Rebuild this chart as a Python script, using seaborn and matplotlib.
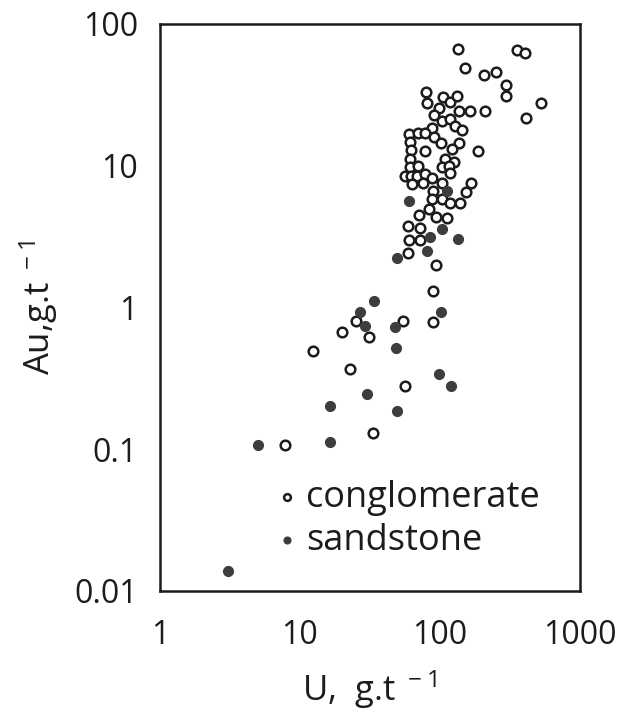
import matplotlib
matplotlib.use("Agg")
import matplotlib.pyplot as plt
from matplotlib.ticker import NullLocator
import seaborn as sns
import pandas as pd

# U and Au values (g/t)
cong_u = [134, 356, 408, 152, 208, 252, 297, 298, 526, 414,
          80.3, 80.5, 106, 119, 132, 99, 137, 165, 210, 91.2,
          104, 118, 128, 144, 87.9, 60.5, 69.5, 78.8, 90.4, 61.6,
          102, 138, 122, 77.8, 61.8, 188, 61.2, 109, 127, 61.4,
          103, 116, 70, 118, 56.2, 62.7, 69.2, 79, 88.3, 62.9,
          76.3, 168, 155, 88.7, 87.8, 104, 119, 139, 103, 83.3,
          71.5, 94, 113, 59.3, 72, 60.3, 71.9, 59.3, 94, 89.4,
          54.8, 89.1, 25.1, 31.4, 20.1, 12.5, 22.9, 56.2, 33.5, 7.85]
cong_au = [66.4, 65.6, 62.2, 48.8, 43.2, 45.9, 36.7, 31.1, 27.5, 21.7,
           33.2, 27.7, 30.3, 27.9, 31.1, 25.5, 24.4, 24.4, 24.4, 22.8,
           20.7, 21.3, 19.1, 17.7, 18.3, 16.8, 17.0, 17.0, 15.9, 14.7,
           14.5, 14.5, 13.0, 12.6, 12.8, 12.6, 11.1, 11.1, 10.5, 9.8,
           9.7, 9.9, 9.9, 8.9, 8.5, 8.4, 8.5, 8.65, 8.2, 7.35,
           7.55, 7.55, 6.53, 6.6, 5.77, 5.77, 5.46, 5.46, 7.55, 4.9,
           4.47, 4.32, 4.24, 3.74, 3.6, 2.98, 2.98, 2.43, 1.99, 1.30,
           0.80, 0.79, 0.80, 0.62, 0.675, 0.49, 0.37, 0.277, 0.129, 0.107]

sand_u = [3.04, 5.0, 16.5, 16.4, 30.4, 33.8, 26.7, 29.1, 48.2, 48.3,
          102, 98.7, 120, 49.5, 49.8, 80.8, 85.1, 103, 135, 59.8, 112]
sand_au = [0.0138, 0.107, 0.113, 0.20, 0.244, 1.11, 0.93, 0.74, 0.73, 0.52,
           0.92, 0.34, 0.277, 0.186, 2.21, 2.49, 3.15, 3.58, 3.05, 5.61, 6.6]

x_ticks = [1, 10, 100, 1000]
x_tick_labels = ["1", "10", "100", "1000"]
y_ticks = [0.01, 0.1, 1, 10, 100]
y_tick_labels = ["0.01", "0.1", "1", "10", "100"]

sns.set_style("white")
plt.rcParams['font.family'] = ['Open Sans', 'DejaVu Sans']
plt.rcParams['mathtext.default'] = 'regular'

ink = "#1c1c1c"
df_c = pd.DataFrame({"U": cong_u, "Au": cong_au})
df_s = pd.DataFrame({"U": sand_u, "Au": sand_au})

fig = plt.figure(figsize=(6.2, 7.18), dpi=100)
ax = fig.add_axes([0.258, 0.177, 0.677, 0.790])

sns.scatterplot(data=df_c, x="U", y="Au", ax=ax, marker="o", s=48,
                facecolor="white", edgecolor=ink, linewidth=1.8,
                label="conglomerate", zorder=3)
sns.scatterplot(data=df_s, x="U", y="Au", ax=ax, marker="o", s=52,
                color="#3d3d3d", edgecolor="#3d3d3d", linewidth=0.8,
                label="sandstone", zorder=3)

ax.set_xscale("log")
ax.set_yscale("log")
ax.set_xlim(1, 1000)
ax.set_ylim(0.01, 100)
ax.set_xticks(x_ticks)
ax.set_xticklabels(x_tick_labels)
ax.set_yticks(y_ticks)
ax.set_yticklabels(y_tick_labels)
ax.xaxis.set_minor_locator(NullLocator())
ax.yaxis.set_minor_locator(NullLocator())

ax.tick_params(axis="both", direction="in", length=9, width=1.6,
               colors=ink, labelsize=23)
ax.tick_params(axis="x", pad=20)
ax.tick_params(axis="y", pad=16)
for sp in ax.spines.values():
    sp.set_linewidth(1.8)
    sp.set_color(ink)

ax.set_xlabel("U,  g.t$^{\\ -1}$", fontsize=25, color=ink, labelpad=12)
ax.set_ylabel("Au,g.t$^{\\ -1}$", fontsize=25, color=ink, labelpad=10)

ax.legend(loc="upper left", bbox_to_anchor=(0.28, 0.196), frameon=False,
          fontsize=26, markerscale=0.7, handlelength=0.5, handletextpad=0.3,
          labelspacing=0.2, borderpad=0, borderaxespad=0, labelcolor=ink)

fig.savefig("out.png", dpi=100, facecolor="white")
